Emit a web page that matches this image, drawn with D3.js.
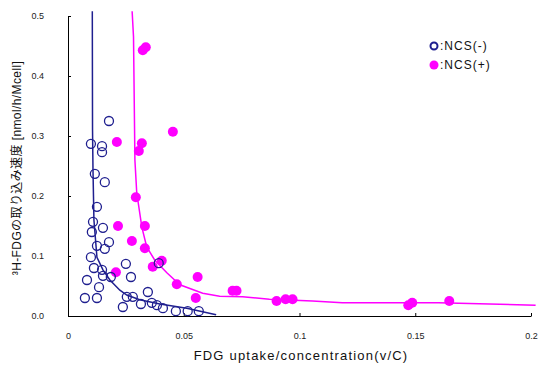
<!DOCTYPE html>
<html>
<head>
<meta charset="utf-8">
<script src="https://cdn.jsdelivr.net/npm/d3@7"></script>
<style>
  body { margin: 0; background: #fff; }
  text { font-family: "Liberation Sans", "Noto Sans CJK JP", sans-serif; }
</style>
</head>
<body>
<div id="chart"></div>
<script>
// NCS(-) : open circles, [v/C, v]
const ncsMinus = [
  [0.0177, 0.325], [0.0099, 0.287], [0.0147, 0.283], [0.0147, 0.273],
  [0.0116, 0.237], [0.0159, 0.223], [0.0125, 0.182], [0.0108, 0.157],
  [0.0151, 0.147], [0.0103, 0.140], [0.0125, 0.117], [0.0177, 0.123],
  [0.0159, 0.112], [0.0099, 0.098], [0.0112, 0.080], [0.0147, 0.077],
  [0.0185, 0.065], [0.0151, 0.067], [0.0082, 0.060], [0.0134, 0.048],
  [0.0250, 0.087], [0.0272, 0.065], [0.0392, 0.088], [0.0345, 0.040],
  [0.0073, 0.030], [0.0125, 0.030], [0.0254, 0.032], [0.0280, 0.032],
  [0.0237, 0.015], [0.0315, 0.020], [0.0362, 0.022], [0.0384, 0.018],
  [0.0410, 0.013], [0.0466, 0.008], [0.0517, 0.008], [0.0565, 0.008]
];

// NCS(+) : filled circles
const ncsPlus = [
  [0.0323, 0.443], [0.0336, 0.448], [0.0453, 0.307], [0.0211, 0.290],
  [0.0319, 0.288], [0.0306, 0.275], [0.0293, 0.198], [0.0216, 0.150],
  [0.0332, 0.150], [0.0276, 0.125], [0.0332, 0.113], [0.0366, 0.082],
  [0.0405, 0.092], [0.0207, 0.073], [0.0470, 0.053], [0.0560, 0.065],
  [0.0552, 0.030], [0.0711, 0.042], [0.0728, 0.042], [0.0901, 0.025],
  [0.0940, 0.028], [0.0970, 0.028], [0.1470, 0.018], [0.1487, 0.022],
  [0.1647, 0.025]
];

// fitted curves
const fitMinus = [
  [0.0105, 0.508], [0.0106, 0.310], [0.0108, 0.243], [0.0112, 0.160],
  [0.0125, 0.098], [0.0151, 0.077], [0.0181, 0.060], [0.0224, 0.043],
  [0.0254, 0.035], [0.0310, 0.027], [0.0397, 0.020], [0.0513, 0.013],
  [0.0640, 0.002]
];
const fitPlus = [
  [0.0277, 0.508], [0.0283, 0.465], [0.0289, 0.260], [0.0297, 0.205],
  [0.0319, 0.148], [0.0340, 0.115], [0.0375, 0.093], [0.0427, 0.072],
  [0.0483, 0.052], [0.0582, 0.038], [0.0655, 0.033], [0.0754, 0.032],
  [0.0870, 0.028], [0.1056, 0.025], [0.1185, 0.022], [0.1600, 0.022],
  [0.2020, 0.018]
];

const xTicks = [0, 0.05, 0.1, 0.15, 0.2];
const xTickLabels = ["0", "0.05", "0.1", "0.15", "0.2"];
const yTicks = [0, 0.1, 0.2, 0.3, 0.4, 0.5];
const yTickLabels = ["0.0", "0.1", "0.2", "0.3", "0.4", "0.5"];

const seriesNames = [":NCS(-)", ":NCS(+)"];
const xTitle = "FDG uptake/concentration(v/C)";
const yTitle = "³H-FDGの取り込み速度 [nmol/h/Mcell]";

const navy = "#1f1f8f", magenta = "#ff00ff";

const svg = d3.select("#chart").append("svg")
    .attr("width", 540)
    .attr("height", 365);

const x = d3.scaleLinear().domain([0, 0.2]).range([68, 531]);
const y = d3.scaleLinear().domain([0, 0.5]).range([316, 16]);

const xAxis = d3.axisBottom(x)
    .tickValues(xTicks)
    .tickFormat((d, i) => xTickLabels[i])
    .tickSizeInner(-3)
    .tickSizeOuter(0)
    .tickPadding(17);
const yAxis = d3.axisLeft(y)
    .tickValues(yTicks)
    .tickFormat((d, i) => yTickLabels[i])
    .tickSizeInner(-3)
    .tickSizeOuter(0)
    .tickPadding(24);

const gx = svg.append("g").attr("transform", "translate(0,316)").call(xAxis);
const gy = svg.append("g").attr("transform", "translate(68,0)").call(yAxis);
[gx, gy].forEach(g => {
  g.selectAll("text").attr("font-size", 9).attr("fill", "#222");
  g.selectAll("line, path").attr("stroke", "#000");
});

const line = d3.line().x(d => x(d[0])).y(d => y(d[1]));

svg.append("path").datum(fitPlus)
    .attr("d", line)
    .attr("fill", "none")
    .attr("stroke", magenta)
    .attr("stroke-width", 1.5);

svg.append("g").selectAll("circle")
    .data(ncsPlus)
    .enter().append("circle")
      .attr("cx", d => x(d[0]))
      .attr("cy", d => y(d[1]))
      .attr("r", 5)
      .attr("fill", magenta);

svg.append("path").datum(fitMinus)
    .attr("d", line)
    .attr("fill", "none")
    .attr("stroke", navy)
    .attr("stroke-width", 1.5);

svg.append("g").selectAll("circle")
    .data(ncsMinus)
    .enter().append("circle")
      .attr("cx", d => x(d[0]))
      .attr("cy", d => y(d[1]))
      .attr("r", 4.5)
      .attr("fill", "none")
      .attr("stroke", navy)
      .attr("stroke-width", 1.3);

// legend
const legend = svg.append("g").attr("transform", "translate(434,46)");
legend.append("circle").attr("r", 3.5)
    .attr("fill", "none").attr("stroke", navy).attr("stroke-width", 2);
legend.append("circle").attr("cy", 19).attr("r", 4.5).attr("fill", magenta);
legend.selectAll("text")
    .data(seriesNames)
    .enter().append("text")
      .attr("x", 6)
      .attr("y", (d, i) => i * 19 + 4)
      .attr("font-size", 12)
      .attr("letter-spacing", 1)
      .attr("fill", "#111")
      .text(d => d);

svg.append("text")
    .attr("x", 301).attr("y", 360)
    .attr("text-anchor", "middle")
    .attr("font-size", 13)
    .attr("letter-spacing", 1.2)
    .attr("fill", "#111")
    .text(xTitle);

svg.append("text")
    .attr("transform", "translate(21,168) rotate(-90)")
    .attr("text-anchor", "middle")
    .attr("font-size", 12)
    .attr("letter-spacing", 0.4)
    .attr("fill", "#111")
    .text(yTitle);
</script>
</body>
</html>
